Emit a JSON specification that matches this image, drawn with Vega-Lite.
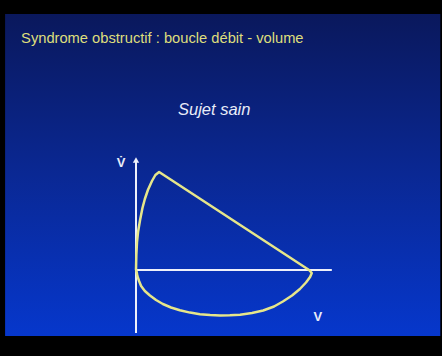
{
  "$schema": "https://vega.github.io/schema/vega-lite/v6.json",
  "width": 442,
  "height": 356,
  "autosize": {"type": "fit", "contains": "padding"},
  "padding": 0,
  "background": "#000000",
  "config": {"view": {"stroke": null}},
  "datasets": {
    "loop": [
      {"step": 1, "volume": 0.0, "flow": 0.0},
      {"step": 2, "volume": 0.01, "flow": 1.5},
      {"step": 3, "volume": 0.03, "flow": 2.8},
      {"step": 4, "volume": 0.06, "flow": 3.8},
      {"step": 5, "volume": 0.12, "flow": 5.0},
      {"step": 6, "volume": 0.19, "flow": 6.2},
      {"step": 7, "volume": 0.26, "flow": 7.1},
      {"step": 8, "volume": 0.35, "flow": 8.0},
      {"step": 9, "volume": 0.47, "flow": 8.9},
      {"step": 10, "volume": 0.57, "flow": 9.5},
      {"step": 11, "volume": 0.68, "flow": 9.8},
      {"step": 12, "volume": 5.09, "flow": 0.0},
      {"step": 13, "volume": 5.17, "flow": -0.3},
      {"step": 14, "volume": 5.12, "flow": -0.7},
      {"step": 15, "volume": 5.0, "flow": -1.25},
      {"step": 16, "volume": 4.82, "flow": -1.9},
      {"step": 17, "volume": 4.59, "flow": -2.55},
      {"step": 18, "volume": 4.32, "flow": -3.15},
      {"step": 19, "volume": 4.06, "flow": -3.65},
      {"step": 20, "volume": 3.74, "flow": -4.05},
      {"step": 21, "volume": 3.41, "flow": -4.3},
      {"step": 22, "volume": 3.06, "flow": -4.47},
      {"step": 23, "volume": 2.76, "flow": -4.53},
      {"step": 24, "volume": 2.47, "flow": -4.54},
      {"step": 25, "volume": 2.18, "flow": -4.51},
      {"step": 26, "volume": 1.88, "flow": -4.42},
      {"step": 27, "volume": 1.59, "flow": -4.26},
      {"step": 28, "volume": 1.29, "flow": -4.03},
      {"step": 29, "volume": 1.03, "flow": -3.75},
      {"step": 30, "volume": 0.79, "flow": -3.4},
      {"step": 31, "volume": 0.59, "flow": -3.0},
      {"step": 32, "volume": 0.41, "flow": -2.55},
      {"step": 33, "volume": 0.26, "flow": -2.1},
      {"step": 34, "volume": 0.15, "flow": -1.6},
      {"step": 35, "volume": 0.09, "flow": -1.1},
      {"step": 36, "volume": 0.04, "flow": -0.6},
      {"step": 37, "volume": 0.02, "flow": -0.2},
      {"step": 38, "volume": 0.0, "flow": 0.0}
    ],
    "axes": [
      {"volume": 0, "flow": -6.3, "volume2": 0, "flow2": 10.8},
      {"volume": 0, "flow": 0, "volume2": 5.76, "flow2": 0}
    ]
  },
  "layer": [
    {
      "data": {"values": [{"left": -3.85, "right": 8.95, "top": 25.6, "bottom": -6.6}]},
      "mark": {
        "type": "rect",
        "fill": {
          "gradient": "linear",
          "x1": 0, "y1": 0, "x2": 0, "y2": 1,
          "stops": [
            {"offset": 0, "color": "#0a185c"},
            {"offset": 0.5, "color": "#0a2894"},
            {"offset": 1, "color": "#0637cc"}
          ]
        }
      },
      "encoding": {
        "x": {"field": "left", "type": "quantitative", "scale": {"domain": [-4, 9], "nice": false, "zero": false}, "axis": null},
        "x2": {"field": "right"},
        "y": {"field": "top", "type": "quantitative", "scale": {"domain": [-8.6, 27], "nice": false, "zero": false}, "axis": null},
        "y2": {"field": "bottom"}
      }
    },
    {
      "data": {"name": "axes"},
      "mark": {"type": "rule", "color": "#eef0fa", "strokeWidth": 2},
      "encoding": {
        "x": {"field": "volume", "type": "quantitative"},
        "x2": {"field": "volume2"},
        "y": {"field": "flow", "type": "quantitative"},
        "y2": {"field": "flow2"}
      }
    },
    {
      "data": {"values": [{"volume": 0, "flow": 11.0}]},
      "mark": {"type": "point", "shape": "triangle-up", "filled": true, "color": "#eef0fa", "opacity": 1, "size": 40},
      "encoding": {
        "x": {"field": "volume", "type": "quantitative"},
        "y": {"field": "flow", "type": "quantitative"}
      }
    },
    {
      "data": {"name": "loop"},
      "mark": {"type": "line", "color": "#e6e68a", "strokeWidth": 2.5, "strokeJoin": "round"},
      "encoding": {
        "x": {"field": "volume", "type": "quantitative"},
        "y": {"field": "flow", "type": "quantitative"},
        "order": {"field": "step"}
      }
    },
    {
      "data": {"values": [{"volume": -3.38, "flow": 22.7, "label": "Syndrome obstructif : boucle débit - volume"}]},
      "mark": {"type": "text", "align": "left", "baseline": "alphabetic", "font": "Liberation Sans", "fontSize": 14.7, "color": "#dede7c"},
      "encoding": {
        "x": {"field": "volume", "type": "quantitative"},
        "y": {"field": "flow", "type": "quantitative"},
        "text": {"field": "label"}
      }
    },
    {
      "data": {"values": [{"volume": 2.3, "flow": 15.5, "label": "Sujet sain"}]},
      "mark": {"type": "text", "align": "center", "baseline": "alphabetic", "font": "Liberation Sans", "fontStyle": "italic", "fontSize": 16.5, "color": "#e8ecf8"},
      "encoding": {
        "x": {"field": "volume", "type": "quantitative"},
        "y": {"field": "flow", "type": "quantitative"},
        "text": {"field": "label"}
      }
    },
    {
      "data": {"values": [
        {"volume": -0.44, "flow": 10.3, "label": "V̇"},
        {"volume": 5.35, "flow": -5.1, "label": "V"}
      ]},
      "mark": {"type": "text", "align": "center", "baseline": "alphabetic", "font": "Liberation Sans", "fontWeight": "bold", "fontSize": 13, "color": "#e8ecf8"},
      "encoding": {
        "x": {"field": "volume", "type": "quantitative"},
        "y": {"field": "flow", "type": "quantitative"},
        "text": {"field": "label"}
      }
    }
  ]
}
